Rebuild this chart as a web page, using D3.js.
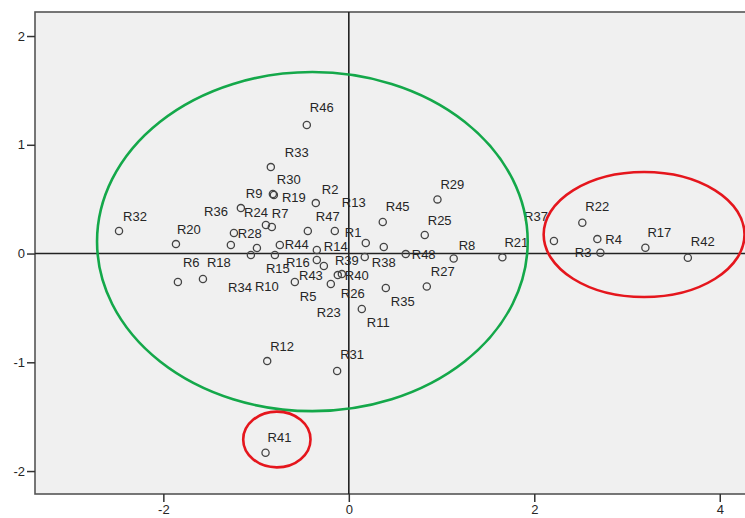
<!DOCTYPE html>
<html>
<head>
<meta charset="utf-8">
<script src="https://cdn.jsdelivr.net/npm/d3@7/dist/d3.min.js"></script>
<style>
  body { margin: 0; background: #fff; }
  svg { display: block; font-family: "Liberation Sans", Arial, sans-serif; }
  .point { fill: none; stroke: #444; stroke-width: 1.3; }
  .point-label { font-size: 13px; fill: #262626; dominant-baseline: central; }
  .tick text { font-size: 13px; fill: #262626; }
  .tick line { stroke: #333; stroke-width: 1.5; }
  .domain { display: none; }
</style>
</head>
<body>
<div id="chart"></div>
<script>
// case names and their two scores
var names = ["R1", "R2", "R3", "R4", "R5", "R6", "R7", "R8", "R9", "R10",
  "R11", "R12", "R13", "R14", "R15", "R16", "R17", "R18", "R19", "R20",
  "R21", "R22", "R23", "R24", "R25", "R26", "R27", "R28", "R29", "R30",
  "R31", "R32", "R33", "R34", "R35", "R36", "R37", "R38", "R39", "R40",
  "R41", "R42", "R43", "R44", "R45", "R46", "R47", "R48"];
var xScores = [-0.151, -0.356, 2.713, 2.680, -0.582, -1.843, -0.830, 1.131, -1.164, -0.991,
  0.140, -0.880, 0.183, -0.345, -0.797, -0.345, 3.198, -1.573, -0.808, -1.864,
  1.656, 2.518, -0.194, -0.894, 0.819, -0.075, 0.841, -1.272, 0.956, -0.819,
  -0.126, -2.478, -0.841, -1.056, 0.399, -1.239, 2.212, 0.377, 0.172, -0.119,
  -0.898, 3.656, -0.269, -0.744, 0.366, -0.453, -0.442, 0.614];
var yScores = [0.207, 0.464, 0.007, 0.133, -0.262, -0.262, 0.244, -0.046, 0.418, 0.051,
  -0.510, -0.989, 0.097, 0.032, -0.014, -0.060, 0.053, -0.234, 0.538, 0.087,
  -0.035, 0.283, -0.280, 0.262, 0.170, -0.189, -0.303, 0.078, 0.498, 0.547,
  -1.080, 0.207, 0.795, -0.014, -0.317, 0.189, 0.115, 0.060, -0.032, -0.198,
  -1.832, -0.039, -0.115, 0.078, 0.290, 1.182, 0.207, -0.005];

var xTicks = [-2, 0, 2, 4];
var yTicks = [-2, -1, 0, 1, 2];

// hand drawn groupings: centre x, centre y, radius x, radius y (score units)
var groupCx = [-0.393, 3.184, -0.776];
var groupCy = [0.110, 0.175, -1.710];
var groupRx = [2.322, 1.083, 0.363];
var groupRy = [1.559, 0.575, 0.256];
var groupColors = ["#14a84a", "#e5161d", "#e5161d"];

// label placement relative to each marker, px [dx, dy, anchor]
var labelPos = {
  R1: [10, 1], R2: [6, -14], R3: [-9, 0, "end"], R4: [8, 0], R5: [5, 14],
  R6: [5, -20], R7: [0, -14], R8: [5, -13], R9: [5, -15], R10: [-2, 39],
  R11: [5, 13], R12: [3, -15], R13: [-24, -40], R14: [7, -4], R15: [-9, 13],
  R16: [-7, 2, "end"], R17: [2, -15], R18: [4, -16], R19: [8, 2], R20: [1, -15],
  R21: [2, -15], R22: [3, -16], R23: [-14, 29], R24: [2, -13, "end"], R25: [3, -15],
  R26: [-1, 19], R27: [4, -15], R28: [7, -12], R29: [3, -15], R30: [4, -15],
  R31: [3, -16], R32: [4, -15], R33: [14, -15], R34: [1, 32, "end"], R35: [5, 13],
  R36: [-6, -21, "end"], R37: [-6, -25, "end"], R38: [-12, 15], R39: [-6, 3, "end"], R40: [7, 0],
  R41: [2, -15], R42: [3, -16], R43: [-1, 9, "end"], R44: [5, -1], R45: [3, -16],
  R46: [3, -17], R47: [8, -15], R48: [6, 0]
};

var width = 745, height = 518;
var plot = { left: 35, top: 12, right: 760, bottom: 494 };

var svg = d3.select("#chart").append("svg")
  .attr("width", width)
  .attr("height", height);

var x = d3.scaleLinear().domain([-3.384, 4.434]).range([plot.left, plot.right]);
var y = d3.scaleLinear().domain([-2.211, 2.221]).range([plot.bottom, plot.top]);

svg.append("rect")
  .attr("x", plot.left)
  .attr("y", plot.top)
  .attr("width", plot.right - plot.left)
  .attr("height", plot.bottom - plot.top)
  .attr("fill", "#f0f0f0")
  .attr("stroke", "#555")
  .attr("stroke-width", 1.6);

// axis lines through the origin
svg.append("line")
  .attr("x1", plot.left).attr("x2", plot.right)
  .attr("y1", y(0)).attr("y2", y(0))
  .attr("stroke", "#222").attr("stroke-width", 1.6);
svg.append("line")
  .attr("x1", x(0)).attr("x2", x(0))
  .attr("y1", plot.top).attr("y2", plot.bottom)
  .attr("stroke", "#222").attr("stroke-width", 1.6);

// plain hyphen for negatives, as the original output has
var plainNumber = function (d) { return String(d); };

svg.append("g")
  .attr("transform", "translate(" + plot.left + ",0)")
  .call(d3.axisLeft(y).tickValues(yTicks).tickSize(8).tickPadding(2).tickFormat(plainNumber));

svg.append("g")
  .attr("transform", "translate(0," + plot.bottom + ")")
  .call(d3.axisBottom(x).tickValues(xTicks).tickSize(8).tickPadding(3).tickFormat(plainNumber));

var points = names.map(function (name, i) {
  return { name: name, x: xScores[i], y: yScores[i] };
});

svg.append("g").selectAll("circle")
  .data(points)
  .enter().append("circle")
  .attr("class", "point")
  .attr("cx", function (d) { return x(d.x); })
  .attr("cy", function (d) { return y(d.y); })
  .attr("r", 3.6);

svg.append("g").selectAll("text")
  .data(points)
  .enter().append("text")
  .attr("class", "point-label")
  .attr("x", function (d) { return x(d.x) + labelPos[d.name][0]; })
  .attr("y", function (d) { return y(d.y) + labelPos[d.name][1]; })
  .attr("text-anchor", function (d) { return labelPos[d.name][2] || "start"; })
  .text(function (d) { return d.name; });

var groups = groupCx.map(function (cx, i) {
  return { cx: cx, cy: groupCy[i], rx: groupRx[i], ry: groupRy[i], color: groupColors[i] };
});

svg.append("g").selectAll("ellipse")
  .data(groups)
  .enter().append("ellipse")
  .attr("cx", function (d) { return x(d.cx); })
  .attr("cy", function (d) { return y(d.cy); })
  .attr("rx", function (d) { return x(d.cx + d.rx) - x(d.cx); })
  .attr("ry", function (d) { return y(d.cy) - y(d.cy + d.ry); })
  .attr("fill", "none")
  .attr("stroke", function (d) { return d.color; })
  .attr("stroke-width", 2.6);
</script>
</body>
</html>
